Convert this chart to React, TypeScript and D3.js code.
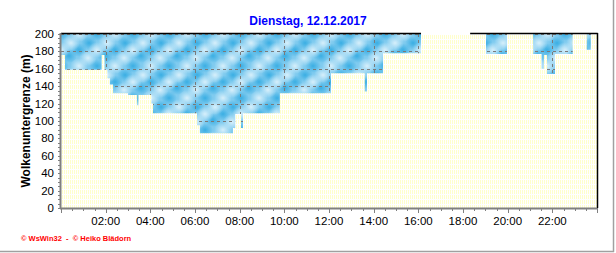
import React from 'react';
import * as d3 from 'd3';

// Cloud base (m) as a step series: each value holds from its start hour until the next start hour.
const stepStarts = [0, 0.18, 1.82, 1.95, 2.08, 2.19, 2.33, 3.0, 3.4, 3.47, 4.05, 4.12, 6.09, 6.22, 7.7, 7.8, 8.06, 8.15, 9.8, 12.09, 13.6, 13.7, 14.42, 16.12, 19.03, 19.97, 21.14, 21.52, 21.63, 21.76, 22.12, 22.91, 23.54, 23.72];
const cloudBase: (number | null)[] = [176, 159, 176, 159, 149, 142, 132, 130, 118, 130, 120, 109, 95, 86, 92, 108, 92, 109, 132, 155, 134, 155, 178, null, 177, null, 177, 160, 176, 154, 177, null, 182, null];
const dayEnd = 24;
const yMax = 200;
const yTicks = [0, 20, 40, 60, 80, 100, 120, 140, 160, 180, 200];
const yMinorStep = 5;
const xTickHours = [2, 4, 6, 8, 10, 12, 14, 16, 18, 20, 22];
const xGridHours = [2, 4, 6, 8, 10, 12, 14, 16, 18, 20, 22];
const xMinorStep = 0.5;
const title = 'Dienstag, 12.12.2017';
const yLabel = 'Wolkenuntergrenze (m)';
const footer = '© WsWin32  -  © Heiko Blädorn';
const borderGap = [16.12, 18.32];

const FONT = '"Liberation Sans", Arial, sans-serif';

export default function App() {
  const x = d3.scaleLinear().domain([0, dayEnd]).range([61, 597]);
  const y = d3.scaleLinear().domain([0, yMax]).range([208, 34]);

  const pts: { t: number; v: number | null }[] = [];
  stepStarts.forEach((t, i) => {
    const t2 = i + 1 < stepStarts.length ? stepStarts[i + 1] : dayEnd;
    pts.push({ t, v: cloudBase[i] }, { t: t2, v: cloudBase[i] });
  });
  const area = d3
    .area<{ t: number; v: number | null }>()
    .defined((d) => d.v != null)
    .x((d) => x(d.t))
    .y0(y(yMax))
    .y1((d) => y(d.v as number))
    .curve(d3.curveLinear);
  const cloudPath = area(pts) || '';

  const minorY = d3.range(0, yMax + 0.01, yMinorStep);
  const minorX = d3.range(0, dayEnd + 0.01, xMinorStep);
  const [x0, x1] = x.range();
  const [yb, yt] = y.range();

  const darkSpots = [[0, 0], [36, 0], [0, 32], [36, 32], [18, 16], [8, 22], [28, 9]];
  const lightSpots = [[18, 0], [18, 32], [0, 16], [36, 16], [10, 9], [27, 24]];

  return (
    <svg width={616} height={253} style={{ position: 'absolute', left: 0, top: 0, background: '#fff' }} fontFamily={FONT}>
      <defs>
        <pattern id="yel" width={2} height={5} patternUnits="userSpaceOnUse">
          <rect width={2} height={5} fill="#ffffff" />
          <rect width={1} height={4} fill="#ffffcc" />
        </pattern>
        <radialGradient id="dk">
          <stop offset="0%" stopColor="#2ea9e1" stopOpacity={0.85} />
          <stop offset="100%" stopColor="#2ea9e1" stopOpacity={0} />
        </radialGradient>
        <radialGradient id="lt">
          <stop offset="0%" stopColor="#e0f3fc" stopOpacity={0.9} />
          <stop offset="100%" stopColor="#e0f3fc" stopOpacity={0} />
        </radialGradient>
        <pattern id="cloud" width={36} height={32} patternUnits="userSpaceOnUse" x={61} y={34}>
          <rect width={36} height={32} fill="#80cbef" />
          {darkSpots.map(([cx, cy], i) => (
            <ellipse key={'d' + i} cx={cx} cy={cy} rx={8} ry={7} fill="url(#dk)" />
          ))}
          {lightSpots.map(([cx, cy], i) => (
            <ellipse key={'l' + i} cx={cx} cy={cy} rx={9} ry={8} fill="url(#lt)" />
          ))}
        </pattern>
        <clipPath id="cloudClip">
          <path d={cloudPath} />
        </clipPath>
      </defs>

      {/* plot background */}
      <rect x={x0} y={yt} width={x1 - x0} height={yb - yt} fill="url(#yel)" />
      {/* clouds */}
      <path d={cloudPath} fill="url(#cloud)" />
      {/* grid visible inside clouds */}
      <g clipPath="url(#cloudClip)" stroke="#7a7a7a" strokeDasharray="3,3" strokeWidth={1}>
        {yTicks.map((v) => (
          <line key={'gy' + v} x1={x0} x2={x1} y1={Math.round(y(v)) + 0.5} y2={Math.round(y(v)) + 0.5} />
        ))}
        {xGridHours.map((h) => (
          <line key={'gx' + h} x1={Math.round(x(h)) + 0.5} x2={Math.round(x(h)) + 0.5} y1={yt} y2={yb} />
        ))}
      </g>

      {/* top and right border */}
      <line x1={x0} x2={x(borderGap[0])} y1={yt - 0.5} y2={yt - 0.5} stroke="#000" strokeWidth={1.5} />
      <line x1={x(borderGap[1])} x2={x1 + 0.75} y1={yt - 0.5} y2={yt - 0.5} stroke="#000" strokeWidth={1.5} />
      <line x1={x1 + 0.5} x2={x1 + 0.5} y1={yt - 1} y2={yb} stroke="#000" strokeWidth={1.5} />

      {/* left axis */}
      <line x1={x0 - 0.5} x2={x0 - 0.5} y1={yt - 1} y2={yb + 1} stroke="#808080" strokeWidth={2} />
      {minorY.map((v) => (
        <line key={'my' + v} x1={x0 - 3} x2={x0} y1={Math.round(y(v)) + 0.5} y2={Math.round(y(v)) + 0.5} stroke="#808080" strokeWidth={1} />
      ))}
      {yTicks.map((v) => (
        <text key={'ty' + v} x={54} y={y(v)} dy="0.35em" textAnchor="end" fontSize={11.5} fill="#000">
          {v}
        </text>
      ))}

      {/* bottom axis */}
      <line x1={x0 - 1} x2={x1} y1={yb + 0.5} y2={yb + 0.5} stroke="#808080" strokeWidth={2} />
      {minorX.map((h) => {
        const major = Math.abs(h / 2 - Math.round(h / 2)) < 1e-6;
        return (
          <line key={'mx' + h} x1={Math.round(x(h)) + 0.5} x2={Math.round(x(h)) + 0.5} y1={yb} y2={yb + (major ? 5 : 3)} stroke="#808080" strokeWidth={1} />
        );
      })}
      {xTickHours.map((h) => (
        <text key={'tx' + h} x={x(h)} y={225} textAnchor="middle" fontSize={11.5} fill="#000">
          {d3.format('02d')(h) + ':00'}
        </text>
      ))}

      {/* titles */}
      <text x={308} y={25} textAnchor="middle" fontSize={12} fontWeight="bold" fill="#0000ff">
        {title}
      </text>
      <text transform={`translate(30,${(yt + yb) / 2}) rotate(-90)`} textAnchor="middle" fontSize={12} fontWeight="bold" fill="#000">
        {yLabel}
      </text>
      <text x={21} y={241} fontSize={7.5} fontWeight="bold" fill="#ff0000" xmlSpace="preserve">
        {footer}
      </text>

      {/* outer frame shadow */}
      <line x1={0} x2={614} y1={251.5} y2={251.5} stroke="#a0a0a0" strokeWidth={1.5} />
      <line x1={613.5} x2={613.5} y1={0} y2={252} stroke="#a0a0a0" strokeWidth={1.5} />
    </svg>
  );
}
